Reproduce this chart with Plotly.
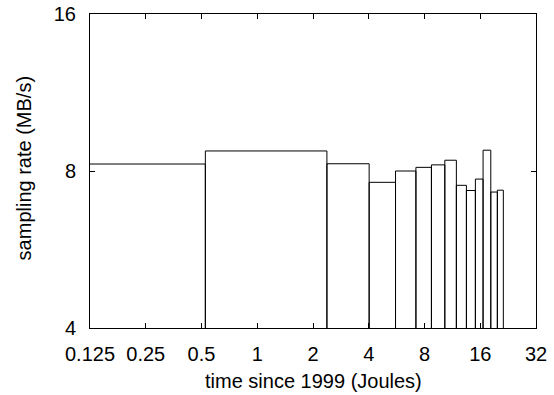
import math
import plotly.graph_objects as go

# bar edges (x, Joules) and heights (MB/s)
edges = [0.1, 0.5245, 2.378, 4.02, 5.58, 7.19, 8.72, 10.30, 11.89, 13.47,
         15.06, 16.57, 18.24, 19.79, 21.32]
rates = [8.25, 8.74, 8.26, 7.61, 8.0, 8.13, 8.22, 8.39, 7.51, 7.34,
         7.72, 8.77, 7.29, 7.35]
x_ticks = [0.125, 0.25, 0.5, 1, 2, 4, 8, 16, 32]
x_tick_text = ["0.125", "0.25", "0.5", "1", "2", "4", "8", "16", "32"]
y_ticks = [4, 8, 16]
y_base = 4

xs, ys = [], []
for i, h in enumerate(rates):
    l, r = edges[i], edges[i + 1]
    xs += [l, l, r, r, None]
    ys += [y_base, h, h, y_base, None]

fig = go.Figure()
fig.add_trace(go.Scatter(x=xs, y=ys, mode="lines",
                         line=dict(color="black", width=1),
                         hoverinfo="skip", showlegend=False))

font = dict(family="Liberation Sans, Arial, sans-serif", size=20, color="black")
fig.update_layout(
    width=554, height=395,
    margin=dict(l=90, r=18, t=14, b=67, autoexpand=False),
    paper_bgcolor="white", plot_bgcolor="white",
    font=font,
    showlegend=False,
    hovermode=False,
    xaxis=dict(type="log", range=[math.log10(0.125), math.log10(32)],
               tickvals=x_ticks, ticktext=x_tick_text,
               ticks="inside", ticklen=5, tickcolor="black", tickwidth=1,
               showline=True, linecolor="black", linewidth=1, mirror="ticks",
               showgrid=False, zeroline=False, automargin=False,
               ticklabelstandoff=8),
    yaxis=dict(type="log", range=[math.log10(4), math.log10(16)],
               tickvals=y_ticks, ticktext=[str(v) for v in y_ticks],
               ticks="inside", ticklen=5, tickcolor="black", tickwidth=1,
               showline=True, linecolor="black", linewidth=1, mirror="ticks",
               showgrid=False, zeroline=False, automargin=False,
               ticklabelstandoff=9),
    annotations=[
        dict(text="time since 1999 (Joules)", xref="paper", yref="paper",
             x=0.5, y=-0.169, xanchor="center", yanchor="middle",
             showarrow=False, font=font),
        dict(text="sampling rate (MB/s)", xref="paper", yref="paper",
             x=-0.149, y=0.51, xanchor="center", yanchor="middle",
             textangle=-90, showarrow=False, font=font),
    ],
)
fig.write_html("out.html",
               config={"displayModeBar": False, "staticPlot": True},
               post_script="document.body.style.margin='0';document.body.style.overflow='hidden';")
